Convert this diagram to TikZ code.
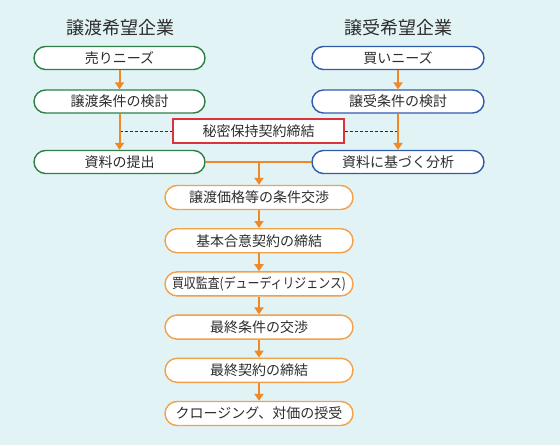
\documentclass[tikz,border=0pt]{standalone}
\usepackage{fontspec}
\setmainfont{Noto Sans CJK JP}
\usetikzlibrary{arrows.meta,calc}
\definecolor{bg}{RGB}{226,243,246}
\definecolor{grn}{RGB}{46,128,72}
\definecolor{blu}{RGB}{48,92,172}
\definecolor{org}{RGB}{240,136,36}
\definecolor{orgb}{RGB}{244,160,72}
\definecolor{redb}{RGB}{220,50,60}
\definecolor{txt}{RGB}{45,45,45}
\tikzset{
  pill/.style={draw, line width=1.4pt, fill=white, rounded corners=11.5pt, minimum height=23pt, inner sep=0pt, text=txt, font=\fontsize{14}{14}\selectfont},
  gbox/.style={pill, draw=grn, minimum width=171pt},
  bbox/.style={pill, draw=blu, minimum width=172pt},
  obox/.style={pill, draw=orgb, minimum width=188pt, minimum height=24pt, rounded corners=12pt},
  rbox/.style={draw=redb, line width=1.2pt, fill=white, minimum width=171pt, minimum height=24pt, inner sep=0pt, text=txt, font=\fontsize{14}{14}\selectfont},
  title/.style={text=txt, font=\fontsize{18}{18}\selectfont, inner sep=0pt},
  arr/.style={draw=org, line width=2pt, -{Triangle[length=7pt,width=9pt]}},
  oline/.style={draw=org, line width=2pt},
  dashline/.style={draw=txt, line width=1pt, dash pattern=on 3pt off 2pt}
}
\begin{document}
\begin{tikzpicture}[x=1pt,y=-1pt]
\fill[bg] (0,0) rectangle (560,445);
\useasboundingbox (0,0) rectangle (560,445);
\node[title] (tl) at (120,28) {譲渡希望企業};
\node[title] (tr) at (398,28) {譲受希望企業};
\node[gbox] (l1) at (119.5,58) {売りニーズ};
\node[gbox] (l2) at (119.5,101.5) {譲渡条件の検討};
\node[gbox] (l3) at (119.5,162) {資料の提出};
\node[bbox] (r1) at (398,58) {買いニーズ};
\node[bbox] (r2) at (398,101.5) {譲受条件の検討};
\node[bbox] (r3) at (398,162) {資料に基づく分析};
\node[rbox] (nda) at (258.5,131) {秘密保持契約締結};
\node[obox] (o1) at (259,197.5) {譲渡価格等の条件交渉};
\node[obox] (o2) at (259,240.7) {基本合意契約の締結};
\node[obox] (o3) at (259,283.9) {\resizebox{174pt}{\height}{買収監査(デューディリジェンス)}};
\node[obox] (o4) at (259,327.1) {最終条件の交渉};
\node[obox] (o5) at (259,370.3) {最終契約の締結};
\node[obox] (o6) at (259,413.5) {クロージング、対価の授受};
\coordinate (j) at (o1.north |- l3.east);
\coordinate (dl) at (l2.south |- nda.west);
\coordinate (dr) at (r2.south |- nda.east);
\draw[dashline] (dl) -- (nda.west);
\draw[dashline] (nda.east) -- (dr);
\draw[arr] (l1) -- (l2);
\draw[arr] (r1) -- (r2);
\draw[arr] (l2) -- (l3);
\draw[arr] (r2) -- (r3);
\draw[oline] (l3.east) -- (r3.west);
\draw[arr] (j) -- (o1.north);
\draw[arr] (o1) -- (o2);
\draw[arr] (o2) -- (o3);
\draw[arr] (o3) -- (o4);
\draw[arr] (o4) -- (o5);
\draw[arr] (o5) -- (o6);
\end{tikzpicture}
\end{document}
